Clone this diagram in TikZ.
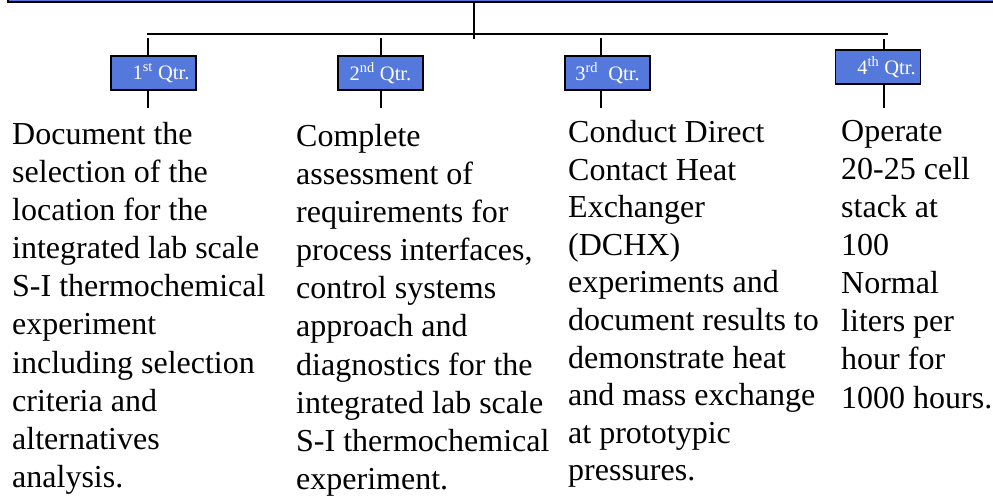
\documentclass[tikz,border=0pt]{standalone}
\usepackage{fontspec}
\setmainfont{Liberation Serif}
\usetikzlibrary{
	calc,
	positioning
	}
\definecolor{bleu-qtr}{RGB}{85,120,220}
\tikzstyle{boite-qtr}=[draw=black,fill=bleu-qtr,line width=1.5pt,minimum width=85pt,minimum height=34pt,inner sep=0pt,text=white,font=\fontsize{20.5}{22}\selectfont]
\tikzstyle{texte-qtr}=[anchor=north west,align=left,inner sep=0pt,font=\fontsize{32}{38.1}\selectfont]
\tikzstyle{trait}=[line width=1.5pt]

\begin{document}
\begin{tikzpicture}[x=1pt,y=-1pt]
\clip (0,0) rectangle (993,499);
\node[boite-qtr,minimum width=1000pt,minimum height=30pt] (titre) at (508,-13) {};

\node[boite-qtr] (qtr1) at (153.5,73) {\hspace{15pt}1\textsuperscript{st} Qtr.};
\node[boite-qtr] (qtr2) at (380.5,73) {2\textsuperscript{nd} Qtr.};
\node[boite-qtr] (qtr3) at (607.5,73) {3\textsuperscript{rd}\ \ Qtr.};
\node[boite-qtr] (qtr4) at (878,67) {\hspace{17pt}4\textsuperscript{th} Qtr.};

\coordinate (pied) at (474,39);
\coordinate (bus-g) at (147,34);
\coordinate (bus-d) at (888,34);
\coordinate (haut1) at (148,38);
\coordinate (haut2) at (381,38);
\coordinate (haut3) at (601,38);
\coordinate (haut4) at (884,39);
\coordinate (bas1) at (148,108);
\coordinate (bas2) at (381,108);
\coordinate (bas3) at (601,108);
\coordinate (bas4) at (884,108);

\draw[trait] (titre.south -| pied) -- (pied);
\draw[trait] (bus-g) -- (bus-d);
\foreach \i in {1,...,4}{
	\draw[trait] (haut\i) -- (haut\i |- qtr\i.north);
	\draw[trait] (qtr\i.south -| bas\i) -- (bas\i);
}

\node[texte-qtr] (texte1) at (12,122) {Document the\\selection of the\\location for the\\integrated lab scale\\S-I thermochemical\\experiment\\including selection\\criteria and\\alternatives\\analysis.};
\node[texte-qtr] (texte2) at (296,124) {Complete\\assessment of\\requirements for\\process interfaces,\\control systems\\approach and\\diagnostics for the\\integrated lab scale\\S-I thermochemical\\experiment.};
\node[texte-qtr,font=\fontsize{32}{37.6}\selectfont] (texte3) at (568,120) {Conduct Direct\\Contact Heat\\Exchanger\\(DCHX)\\experiments and\\document results to\\demonstrate heat\\and mass exchange\\at prototypic\\pressures.};
\node[texte-qtr] (texte4) at (841,120) {Operate\\20-25 cell\\stack at\\100\\Normal\\liters per\\hour for\\1000 hours.};
\end{tikzpicture}
\end{document}
